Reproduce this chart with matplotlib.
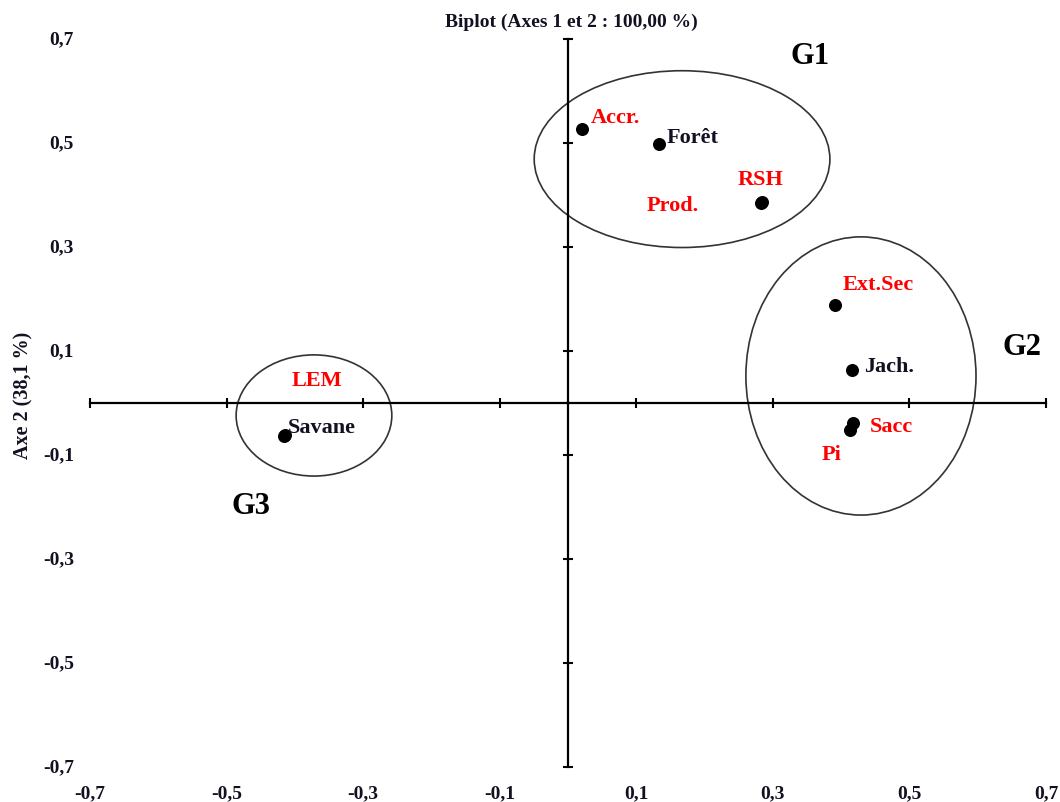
"""Biplot (Axes 1 et 2) with three groups circled."""

import matplotlib
matplotlib.use("Agg")
import matplotlib.pyplot as plt
from matplotlib.patches import Ellipse

# points of the biplot
names = ["Accr.", "Forêt", "RSH", "Prod.", "Ext.Sec", "Jach.", "Sacc", "Pi",
         "LEM", "Savane"]
axe1 = [0.020, 0.133, 0.284, 0.282, 0.391, 0.416, 0.417, 0.413, -0.414, -0.416]
axe2 = [0.527, 0.498, 0.387, 0.385, 0.188, 0.063, -0.038, -0.052, -0.061, -0.063]
is_var = [True, False, True, True, True, False, True, True, True, False]

# group ellipses
groups = ["G1", "G2", "G3"]
grp_cx = [0.167, 0.429, -0.372]
grp_cy = [0.469, 0.052, -0.024]
grp_w = [0.433, 0.337, 0.228]
grp_h = [0.340, 0.535, 0.233]

ticks = [-0.7, -0.5, -0.3, -0.1, 0.1, 0.3, 0.5, 0.7]

RED = "#ff0000"
INK = "#111122"
SERIF = "Liberation Serif"

# label offsets in pixels (left edge / vertical centre relative to the point)
offsets = {
    "Accr.": (9, 12), "Forêt": (8, 7), "RSH": (-24, 23), "Prod.": (-114, -2),
    "Ext.Sec": (8, 21), "Jach.": (12, 4), "Sacc": (17, -3), "Pi": (-28, -24),
    "LEM": (6, 55), "Savane": (4, 9),
}
grp_text = {"G1": (0.355, 0.668), "G2": (0.665, 0.108), "G3": (-0.465, -0.197)}

fig = plt.figure(figsize=(10.6, 8.03), dpi=100)
ax = fig.add_axes([90 / 1060, 35 / 803, 956 / 1060, 728 / 803])
ax.set_xlim(-0.7, 0.7)
ax.set_ylim(-0.7, 0.7)

for s in ("top", "right"):
    ax.spines[s].set_visible(False)
for s in ("left", "bottom"):
    ax.spines[s].set_position(("data", 0))
    ax.spines[s].set_linewidth(1.6)
ax.set_xticks(ticks)
ax.set_yticks(ticks)
ax.tick_params(direction="inout", length=7, width=1.5,
               labelbottom=False, labelleft=False)

tick_font = dict(family=SERIF, fontweight="bold", fontsize=14, color=INK)
for v in ticks:
    lbl = f"{v:.1f}".replace(".", ",")
    ax.annotate(lbl, xy=(v, 0), xycoords=("data", "axes fraction"),
                xytext=(0, -26), textcoords="offset pixels",
                ha="center", va="center", **tick_font)
    ax.annotate(lbl, xy=(0, v), xycoords=("axes fraction", "data"),
                xytext=(-16, 0), textcoords="offset pixels",
                ha="right", va="center", **tick_font)

for cx, cy, w, h in zip(grp_cx, grp_cy, grp_w, grp_h):
    ax.add_patch(Ellipse((cx, cy), w, h, fill=False, edgecolor="#333333",
                         linewidth=1.2))

ax.scatter(axe1, axe2, s=70, color="black", zorder=3)

for n, x, y, v in zip(names, axe1, axe2, is_var):
    ax.annotate(n, xy=(x, y), xytext=offsets[n], textcoords="offset pixels",
                ha="left", va="center", family=SERIF, fontweight="bold",
                fontsize=16, color=RED if v else INK)

for g in groups:
    gx, gy = grp_text[g]
    ax.text(gx, gy, g, ha="center", va="center", family=SERIF,
            fontweight="bold", fontsize=22, color="black")

fig.text(571 / 1060, 1 - 22 / 803, "Biplot (Axes 1 et 2 : 100,00 %)",
         ha="center", va="center", family=SERIF, fontweight="bold",
         fontsize=14, color=INK)
fig.text(23 / 1060, 1 - 395 / 803, "Axe 2 (38,1 %)", rotation=90,
         ha="center", va="center", family=SERIF, fontweight="bold",
         fontsize=14.5, color=INK)

fig.savefig("out.png", dpi=100, facecolor="white")
